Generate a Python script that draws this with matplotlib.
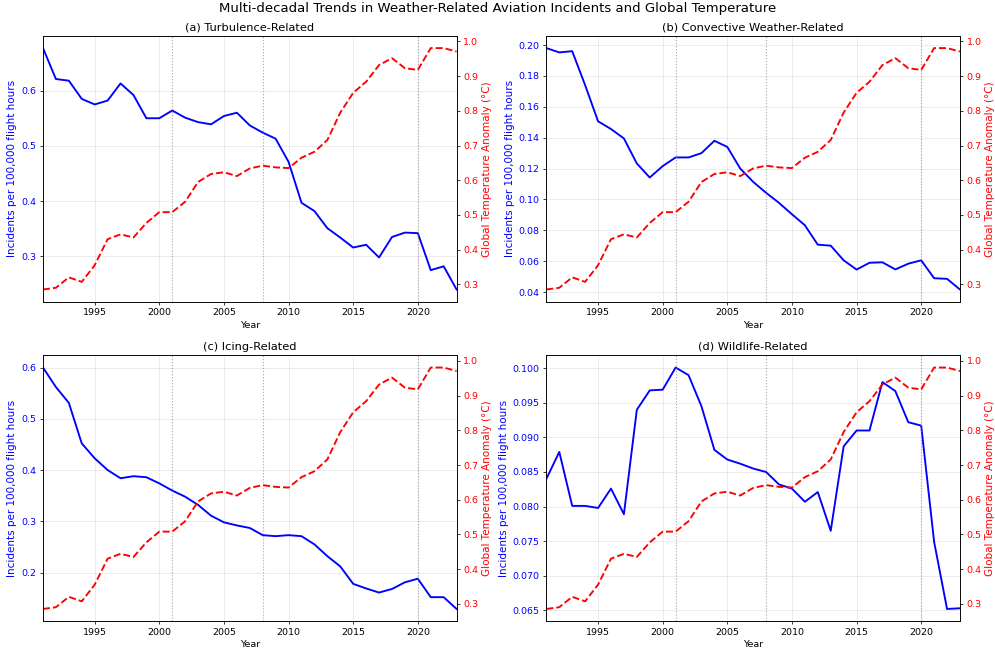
import numpy as np
import matplotlib
matplotlib.use("Agg")
import matplotlib.pyplot as plt

years = np.arange(1991, 2024)

temp_anomaly = [0.285, 0.29, 0.32, 0.307, 0.355, 0.43, 0.444, 0.435, 0.477, 0.508,
                0.508, 0.538, 0.595, 0.618, 0.623, 0.612, 0.634, 0.642, 0.637, 0.635,
                0.665, 0.682, 0.716, 0.795, 0.852, 0.884, 0.932, 0.952, 0.923, 0.918,
                0.981, 0.981, 0.971]

turbulence = [0.677, 0.621, 0.618, 0.585, 0.575, 0.582, 0.613, 0.592, 0.550, 0.550,
              0.564, 0.551, 0.543, 0.539, 0.554, 0.560, 0.537, 0.524, 0.513, 0.471,
              0.397, 0.382, 0.351, 0.334, 0.316, 0.321, 0.298, 0.335, 0.343, 0.342,
              0.275, 0.282, 0.240]

convective = [0.198, 0.1952, 0.196, 0.174, 0.1506, 0.1456, 0.1395, 0.1233, 0.1142, 0.1216,
              0.1272, 0.1272, 0.130, 0.138, 0.134, 0.120, 0.1114, 0.1043, 0.0978, 0.0904,
              0.0833, 0.0707, 0.0701, 0.0606, 0.0546, 0.059, 0.0593, 0.0547, 0.0584, 0.0606,
              0.049, 0.0486, 0.0417]

icing = [0.600, 0.562, 0.531, 0.452, 0.423, 0.400, 0.384, 0.388, 0.386, 0.374,
         0.360, 0.348, 0.332, 0.311, 0.298, 0.292, 0.287, 0.273, 0.271, 0.273,
         0.271, 0.255, 0.232, 0.212, 0.178, 0.169, 0.161, 0.168, 0.181, 0.188,
         0.152, 0.152, 0.129]

wildlife = [0.0840, 0.0879, 0.0801, 0.0801, 0.0798, 0.0826, 0.0789, 0.0940, 0.0968, 0.0969,
            0.1001, 0.0990, 0.0945, 0.0882, 0.0868, 0.0862, 0.0855, 0.0850, 0.0832, 0.0826,
            0.0807, 0.0821, 0.0765, 0.0887, 0.0910, 0.0910, 0.0980, 0.0967, 0.0922, 0.0917,
            0.0749, 0.0652, 0.0653]

titles = ["(a) Turbulence-Related", "(b) Convective Weather-Related",
          "(c) Icing-Related", "(d) Wildlife-Related"]
series = [turbulence, convective, icing, wildlife]
event_years = [2001, 2008, 2020]

# drawn at a low dpi so default font/line sizes shrink like the reference
DPI = 68
fig, axes = plt.subplots(2, 2, figsize=(995 / DPI, 649 / DPI), dpi=DPI)

for ax, title, values in zip(axes.flat, titles, series):
    ax.plot(years, values, color="blue", linewidth=2)
    ax.set_title(title, fontsize=12)
    ax.set_xlabel("Year", fontsize=10)
    ax.set_ylabel("Incidents per 100,000 flight hours", color="blue", fontsize=11)
    ax.tick_params(axis="y", labelcolor="blue")
    ax.set_xlim(1991, 2023)
    ax.grid(True, alpha=0.3)
    for yr in event_years:
        ax.axvline(yr, color="gray", linestyle=":", linewidth=1.2, alpha=0.7)

    ax2 = ax.twinx()
    ax2.plot(years, temp_anomaly, color="red", linestyle="--", linewidth=2)
    ax2.set_ylabel("Global Temperature Anomaly (°C)", color="red", fontsize=11)
    ax2.tick_params(axis="y", labelcolor="red")

fig.suptitle("Multi-decadal Trends in Weather-Related Aviation Incidents and Global Temperature",
             fontsize=14, y=0.997)
fig.subplots_adjust(left=0.0432, right=0.9648, top=0.9445, bottom=0.0431,
                    wspace=0.217, hspace=0.203)
fig.savefig("out.png", dpi=DPI)
